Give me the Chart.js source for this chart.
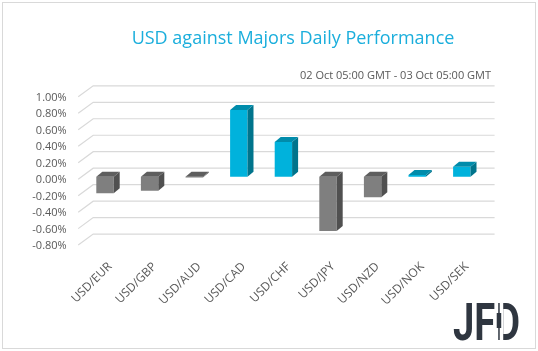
<!DOCTYPE html>
<html lang="en">
  <head>
    <meta charset="UTF-8" />
    <title>USD against Majors</title>
    <script src="https://cdn.jsdelivr.net/npm/chart.js@4.4.0/dist/chart.umd.min.js"></script>
    <style>
      body { margin: 0; background: #fff; }
      .chart-view { position: relative; width: 538px; height: 351px; }
    </style>
  </head>
  <body>
    <div class="chart-view">
      <canvas id="chart"></canvas>
    </div>

    <script>
      //data
      const categories = ['USD/EUR', 'USD/GBP', 'USD/AUD', 'USD/CAD', 'USD/CHF', 'USD/JPY', 'USD/NZD', 'USD/NOK', 'USD/SEK'];
      const performance = [-0.20, -0.17, -0.01, 0.81, 0.42, -0.66, -0.25, 0.02, 0.12];
      const yTickValues = [-0.8, -0.6, -0.4, -0.2, 0, 0.2, 0.4, 0.6, 0.8, 1.0];
      const titleText = 'USD against Majors Daily Performance';
      const subtitleText = '02 Oct 05:00 GMT - 03 Oct 05:00 GMT';

      const CYAN = { front: '#00b2dc', top: '#008cab', side: '#00748c' };
      const GREY = { front: '#7f7f7f', top: '#5e5e5e', side: '#505050' };
      const DEPTH_X = 6, DEPTH_Y = 5;      // bar depth
      const WALL_X = 10.5, WALL_Y = 8.5;   // back wall offset from bar plane

      // grid on the back wall + side wall diagonals
      const wallGrid = {
        id: 'wallGrid',
        beforeDatasetsDraw(chart) {
          const { ctx, chartArea, scales } = chart;
          const xl = chartArea.left + WALL_X;
          const xr = chartArea.right + WALL_X;
          ctx.save();
          ctx.strokeStyle = '#d9d9d9';
          ctx.lineWidth = 1.2;
          scales.y.ticks.forEach((t) => {
            const yb = scales.y.getPixelForValue(t.value) - WALL_Y;
            ctx.beginPath();
            ctx.moveTo(xl - 15, yb + 11);
            ctx.lineTo(xl, yb);
            ctx.lineTo(xr, yb);
            ctx.stroke();
          });
          ctx.restore();
        }
      };

      // top and side faces of the bars
      const bars3d = {
        id: 'bars3d',
        afterDatasetsDraw(chart) {
          const { ctx } = chart;
          const meta = chart.getDatasetMeta(0);
          ctx.save();
          meta.data.forEach((bar, i) => {
            const c = performance[i] >= 0 ? CYAN : GREY;
            const l = bar.x - bar.width / 2;
            const r = bar.x + bar.width / 2;
            const top = Math.min(bar.y, bar.base);
            const bottom = Math.max(bar.y, bar.base);
            ctx.fillStyle = c.side;
            ctx.beginPath();
            ctx.moveTo(r, top);
            ctx.lineTo(r + DEPTH_X, top - DEPTH_Y);
            ctx.lineTo(r + DEPTH_X, bottom - DEPTH_Y);
            ctx.lineTo(r, bottom);
            ctx.closePath();
            ctx.fill();
            ctx.fillStyle = c.top;
            ctx.beginPath();
            ctx.moveTo(l, top);
            ctx.lineTo(l + DEPTH_X, top - DEPTH_Y);
            ctx.lineTo(r + DEPTH_X, top - DEPTH_Y);
            ctx.lineTo(r, top);
            ctx.closePath();
            ctx.fill();
          });
          ctx.restore();
        }
      };

      // frame, titles, logo
      const decorations = {
        id: 'decorations',
        afterDraw(chart) {
          const { ctx } = chart;
          ctx.save();
          ctx.strokeStyle = '#d9d9d9';
          ctx.lineWidth = 1;
          ctx.strokeRect(2.5, 2.5, 533, 346);

          ctx.textBaseline = 'middle';
          ctx.fillStyle = '#1aaedc';
          ctx.font = '18px "Open Sans"';
          ctx.textAlign = 'center';
          ctx.fillText(titleText, 293, 39);

          ctx.fillStyle = '#595959';
          ctx.font = '11px "Open Sans"';
          ctx.textAlign = 'right';
          ctx.fillText(subtitleText, 491, 76);

          // JFD logo
          ctx.font = 'bold 52px Roboto';
          ctx.textAlign = 'left';
          ctx.textBaseline = 'alphabetic';
          const w = ctx.measureText('JFD').width;
          const wJF = ctx.measureText('JF').width;
          const sx = 67 / w;
          const x0 = 453, base = 340;
          ctx.translate(x0, 0);
          ctx.scale(sx, 1);
          ctx.fillStyle = '#2f3640';
          ctx.fillText('JFD', 0, base);
          ctx.setTransform(1, 0, 0, 1, 0, 0);
          const dx = x0 + wJF * sx;
          ctx.fillStyle = '#ffffff';
          ctx.fillRect(dx + 1, 300, 7, 42);
          ctx.fillStyle = '#2f3640';
          ctx.fillRect(dx + 3, 303, 1.5, 37);
          ctx.fillRect(dx + 1.5, 313, 4.5, 15);
          ctx.restore();
        }
      };

      const data = {
        labels: categories,
        datasets: [
          {
            label: 'Daily performance',
            data: performance,
            backgroundColor: performance.map((v) => (v >= 0 ? CYAN.front : GREY.front)),
            barPercentage: 0.39,
            categoryPercentage: 1
          }
        ]
      };

      //config
      const config = {
        type: 'bar',
        data: data,
        options: {
          responsive: true,
          maintainAspectRatio: false,
          animation: false,
          layout: { padding: { top: 94.3, right: 53.9, left: 0, bottom: 0 } },
          scales: {
            x: {
              grid: { display: false, drawTicks: false },
              border: { display: false },
              ticks: {
                color: '#595959',
                font: { family: 'Open Sans', size: 12 },
                minRotation: 45,
                maxRotation: 45,
                padding: 17,
                labelOffset: 5
              },
              afterFit: (scale) => { scale.height = 108.4; }
            },
            y: {
              min: -0.8,
              max: 1.0,
              grid: { display: false, drawTicks: false },
              border: { display: false },
              afterBuildTicks: (scale) => {
                scale.ticks = yTickValues.map((v) => ({ value: v }));
              },
              ticks: {
                color: '#595959',
                font: { family: 'Open Sans', size: 11 },
                padding: 16,
                labelOffset: 3.5,
                callback: (v) => v.toFixed(2) + '%'
              },
              afterFit: (scale) => { scale.width = 82.7; }
            }
          },
          plugins: {
            legend: { display: false },
            tooltip: { enabled: false }
          }
        },
        plugins: [wallGrid, bars3d, decorations]
      };

      //init
      const ctx = document.getElementById('chart');
      const chart = new Chart(ctx, config);
    </script>
  </body>
</html>
